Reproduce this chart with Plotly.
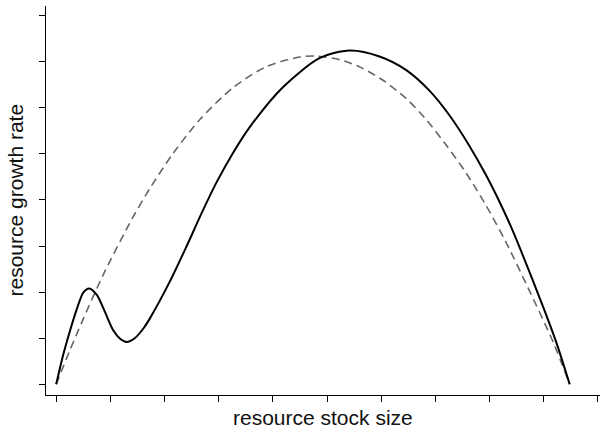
import plotly.graph_objects as go

# Solid curve (in tick units)
solid_x = [0.0, 0.13, 0.25, 0.38, 0.50, 0.61, 0.75, 0.90, 1.05, 1.18, 1.30, 1.45, 1.61, 1.73,
           2.09, 2.39, 2.70, 2.96, 3.27, 3.58, 4.19, 4.87, 5.42, 5.97, 6.47, 6.90, 7.27,
           7.63, 7.94, 8.16, 8.40, 8.56, 8.99, 9.23, 9.48]
solid_y = [0.0, 0.64, 1.14, 1.63, 1.99, 2.08, 1.94, 1.57, 1.18, 0.99, 0.92, 1.00, 1.21, 1.43,
           2.21, 2.95, 3.75, 4.38, 5.03, 5.59, 6.45, 7.08, 7.24, 7.11, 6.81, 6.36, 5.82,
           5.17, 4.53, 4.02, 3.41, 2.96, 1.68, 0.92, 0.0]

# Dashed curve
dash_x = [0.0, 0.25, 0.50, 0.87, 1.41, 1.73, 2.16, 2.65, 3.27, 3.88, 4.50, 4.80, 5.24, 5.61,
          6.04, 6.47, 6.84, 7.20, 7.57, 7.94, 8.31, 8.74, 9.17, 9.48]
dash_y = [0.0, 0.73, 1.42, 2.38, 3.61, 4.25, 5.01, 5.74, 6.44, 6.89, 7.10, 7.12, 7.04, 6.88,
          6.59, 6.19, 5.73, 5.19, 4.58, 3.87, 3.07, 2.02, 0.93, 0.0]

x_ticks = list(range(0, 11))
y_ticks = list(range(0, 9))

fig = go.Figure()
fig.add_trace(go.Scatter(x=dash_x, y=dash_y, mode="lines",
                         line=dict(color="#666666", width=1.6, dash="8px,5px", shape="spline", smoothing=0.8)))
fig.add_trace(go.Scatter(x=solid_x, y=solid_y, mode="lines",
                         line=dict(color="black", width=2, shape="spline", smoothing=0.8)))

axis_common = dict(showgrid=False, zeroline=False, showticklabels=False, ticks="outside",
                   ticklen=6, tickcolor="black", tickwidth=1, showline=True,
                   linecolor="black", linewidth=1, fixedrange=True)

fig.update_layout(
    width=600, height=433,
    margin=dict(l=46, r=0, t=6, b=38),
    paper_bgcolor="white", plot_bgcolor="white",
    showlegend=False,
    xaxis=dict(range=[-0.188, 10.04], tickvals=x_ticks, **axis_common),
    yaxis=dict(range=[-0.232, 8.206], tickvals=y_ticks, **axis_common),
    font=dict(family="Liberation Sans, Arial, sans-serif", size=21, color="#111111"),
    annotations=[
        dict(text="resource stock size", xref="paper", yref="paper", x=0.5, y=0,
             xanchor="center", yanchor="middle", yshift=-22, showarrow=False,
             font=dict(size=21)),
        dict(text="resource growth rate", xref="paper", yref="paper", x=0, y=0.5,
             xanchor="center", yanchor="middle", xshift=-31, textangle=-90, showarrow=False,
             font=dict(size=21)),
    ],
)

fig.write_html("out.html")
